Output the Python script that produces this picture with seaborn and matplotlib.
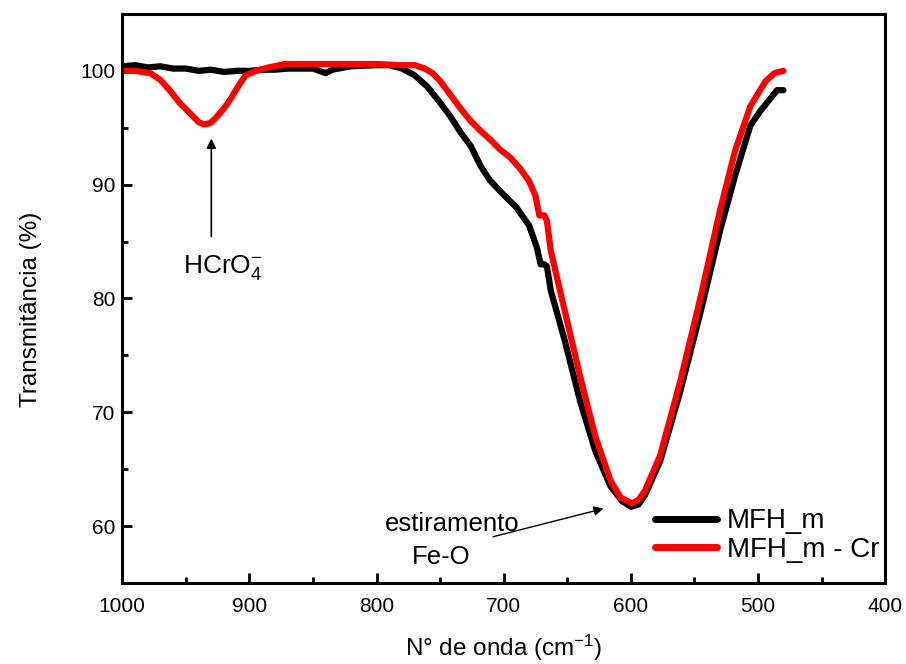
import matplotlib
matplotlib.use("Agg")
import matplotlib.pyplot as plt
import seaborn as sns
import pandas as pd
from matplotlib.ticker import MultipleLocator

# ---- data ----
x_mfh = [1000, 990, 980, 970, 960, 950, 940, 930, 920, 910, 900, 890, 880, 870, 860,
         850, 840, 835, 830, 820, 800, 790, 780, 770, 760, 750, 742, 734, 726, 718,
         711, 700, 690, 680, 674, 671, 668, 666, 663, 652, 640, 628, 616, 607, 600,
         594, 589, 577, 561, 545, 530, 518, 506, 498, 490, 485, 480]
y_mfh = [100.4, 100.5, 100.3, 100.4, 100.2, 100.2, 100.0, 100.1, 99.9, 100.0, 100.0,
         100.1, 100.1, 100.2, 100.2, 100.2, 99.8, 100.1, 100.2, 100.4, 100.5, 100.5,
         100.2, 99.6, 98.6, 97.2, 96.0, 94.6, 93.4, 91.6, 90.4, 89.1, 88.0, 86.4, 84.5,
         83.0, 83.0, 82.8, 80.7, 76.3, 71.0, 66.6, 63.5, 62.2, 61.7, 61.9, 62.7, 65.7,
         71.9, 78.9, 85.9, 90.8, 95.2, 96.5, 97.6, 98.3, 98.3]

x_cr = [1000, 990, 978, 970, 962, 955, 947, 940, 936, 931, 927, 920, 915, 908, 903,
        895, 885, 872, 860, 836, 800, 781, 770, 762, 756, 750, 742, 734, 726, 718,
        710, 703, 695, 687, 680, 675, 672, 668, 666, 663, 652, 640, 628, 616, 608,
        599, 594, 589, 577, 561, 545, 530, 518, 506, 494, 487, 480]
y_cr = [100.0, 100.0, 99.8, 99.2, 98.2, 97.2, 96.3, 95.5, 95.3, 95.4, 95.8, 96.7, 97.5,
        98.8, 99.6, 100.0, 100.3, 100.6, 100.6, 100.6, 100.6, 100.5, 100.5, 100.2, 99.8,
        99.1, 97.9, 96.7, 95.6, 94.7, 93.9, 93.1, 92.4, 91.4, 90.3, 89.0, 87.3, 87.3,
        86.8, 84.2, 78.9, 73.2, 67.9, 64.0, 62.5, 62.0, 62.3, 63.1, 66.2, 72.8, 80.2,
        87.7, 93.0, 96.9, 99.1, 99.8, 100.0]

series_names = ["MFH_m", "MFH_m - Cr"]
series_colors = ["#000000", "#ff0000"]

df = pd.concat([
    pd.DataFrame({"x": x_mfh, "y": y_mfh, "amostra": series_names[0]}),
    pd.DataFrame({"x": x_cr, "y": y_cr, "amostra": series_names[1]}),
])

sns.set_style("ticks")
plt.rcParams["font.family"] = ["Liberation Sans", "DejaVu Sans"]
plt.rcParams["mathtext.fontset"] = "custom"
plt.rcParams["mathtext.rm"] = "Liberation Sans"
plt.rcParams["mathtext.it"] = "Liberation Sans"
for k in ["text.color", "axes.labelcolor", "xtick.color", "ytick.color",
          "axes.edgecolor"]:
    plt.rcParams[k] = "black"

fig, ax = plt.subplots(figsize=(9.06, 6.64), dpi=100)
fig.subplots_adjust(left=0.135, right=0.977, top=0.979, bottom=0.122)

sns.lineplot(data=df, x="x", y="y", hue="amostra", palette=series_colors,
             linewidth=4.5, ax=ax, sort=False, estimator=None)

ax.set_xlim(1000, 400)
ax.set_ylim(55, 105)
ax.xaxis.set_major_locator(MultipleLocator(100))
ax.xaxis.set_minor_locator(MultipleLocator(50))
ax.yaxis.set_major_locator(MultipleLocator(10))
ax.yaxis.set_minor_locator(MultipleLocator(5))
ax.tick_params(which="major", direction="in", length=7, width=2, labelsize=15,
               top=False, right=False)
ax.tick_params(axis="x", which="major", pad=10)
ax.tick_params(axis="y", which="major", pad=5)
ax.tick_params(which="minor", direction="in", length=4, width=2,
               top=False, right=False)
for s in ax.spines.values():
    s.set_visible(True)
    s.set_linewidth(2.2)
    s.set_color("black")

ax.set_xlabel(r"N° de onda (cm$^{-1}$)", fontsize=17.5, labelpad=12)
ax.set_ylabel("Transmitância (%)", fontsize=17.5)
ax.yaxis.set_label_coords(-0.105, 0.48)

leg = ax.legend(loc="lower right", frameon=False, fontsize=20, handlelength=2.25,
                handletextpad=0.35, borderaxespad=0.0, borderpad=0.2,
                labelspacing=0.1, bbox_to_anchor=(1.0, 0.025))
for h in leg.get_lines():
    h.set_linewidth(5)

ax.annotate("", xy=(930, 94.3), xytext=(930, 85.2),
            arrowprops=dict(arrowstyle="-|>", color="black", lw=1.2,
                            mutation_scale=14))
ax.text(921, 82.7, r"HCrO$_4^{-}$", ha="center", va="center", fontsize=19)

ax.annotate("", xy=(619.4, 61.6), xytext=(710.6, 59.0),
            arrowprops=dict(arrowstyle="-|>", color="black", lw=1.0,
                            mutation_scale=14))
ax.text(740.5, 60.2, "estiramento", ha="center", va="center", fontsize=18.5)
ax.text(749.2, 57.3, "Fe-O", ha="center", va="center", fontsize=18.5)

fig.savefig("out.png", dpi=100)
